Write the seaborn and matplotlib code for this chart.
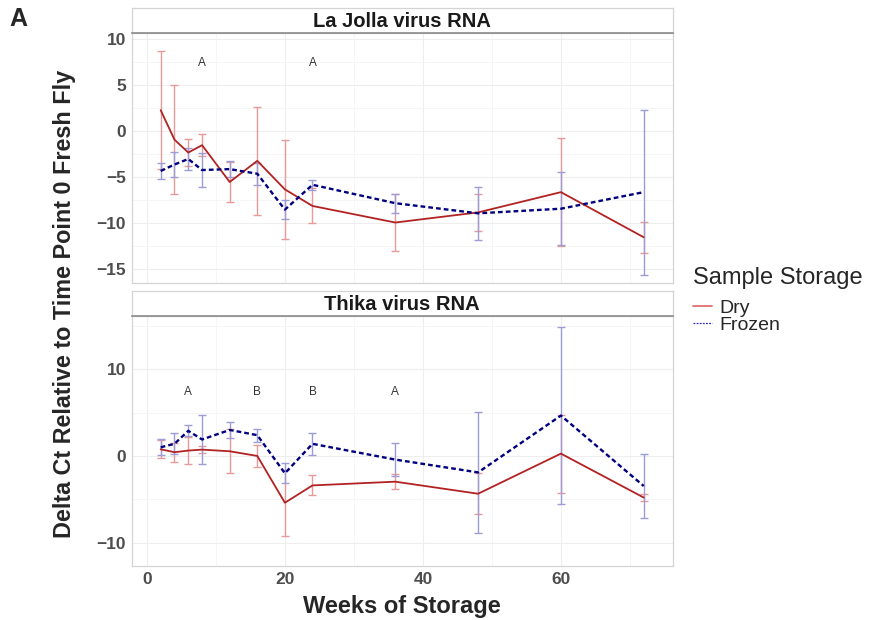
import numpy as np
import pandas as pd
import matplotlib
matplotlib.use("Agg")
import matplotlib.pyplot as plt
from matplotlib.lines import Line2D
from matplotlib.ticker import MultipleLocator
import seaborn as sns

# Storage time points (weeks)
weeks = [2, 4, 6, 8, 12, 16, 20, 24, 36, 48, 60, 72]

# La Jolla virus RNA: mean delta Ct and standard error
ljv_dry_mean = [2.3, -0.9, -2.3, -1.5, -5.5, -3.2, -6.3, -8.1, -9.9, -8.8, -6.6, -11.5]
ljv_dry_se = [6.4, 5.9, 1.5, 1.2, 2.2, 5.85, 5.4, 1.9, 3.05, 2.05, 5.85, 1.7]
ljv_frozen_mean = [-4.3, -3.6, -3.0, -4.2, -4.1, -4.6, -8.5, -5.8, -7.8, -8.9, -8.4, -6.6]
ljv_frozen_se = [0.9, 1.4, 1.2, 1.8, 0.85, 1.2, 1.0, 0.55, 1.05, 2.9, 3.95, 8.95]

# Thika virus RNA: mean delta Ct and standard error
thika_dry_mean = [0.77, 0.43, 0.62, 0.73, 0.54, 0.0, -5.4, -3.4, -2.97, -4.36, 0.27, -4.8]
thika_dry_se = [1.05, 1.1, 1.6, 0.4, 2.55, 1.25, 3.8, 1.15, 0.85, 2.35, 4.5, 0.45]
thika_frozen_mean = [1.0, 1.4, 2.9, 1.9, 3.0, 2.4, -2.0, 1.4, -0.42, -1.9, 4.66, -3.47]
thika_frozen_se = [0.9, 1.2, 0.65, 2.85, 0.95, 0.75, 1.15, 1.3, 1.9, 7.0, 10.25, 3.7]

# Significance letters
ljv_letter_weeks = [8, 24]
ljv_letters = ["A", "A"]
thika_letter_weeks = [6, 16, 24, 36]
thika_letters = ["A", "B", "B", "A"]
letter_y = 7.4

panels = ["La Jolla virus RNA", "Thika virus RNA"]
storage_levels = ["Dry", "Frozen"]


def long_frame(panel, dry_m, dry_s, fro_m, fro_s):
    parts = []
    for lvl, m, s in [("Dry", dry_m, dry_s), ("Frozen", fro_m, fro_s)]:
        parts.append(pd.DataFrame({"panel": panel, "storage": lvl, "week": weeks,
                                   "mean": m, "se": s}))
    return pd.concat(parts, ignore_index=True)


df = pd.concat([
    long_frame(panels[0], ljv_dry_mean, ljv_dry_se, ljv_frozen_mean, ljv_frozen_se),
    long_frame(panels[1], thika_dry_mean, thika_dry_se, thika_frozen_mean, thika_frozen_se),
], ignore_index=True)

sns.set_theme(style="white")
plt.rcParams["font.family"] = ["Liberation Sans", "DejaVu Sans"]

line_colors = {"Dry": "#B22222", "Frozen": "#000080"}
line_widths = {"Dry": 1.3, "Frozen": 1.7}
bar_colors = {"Dry": "#E89A9A", "Frozen": "#9C9CD6"}

fig = plt.figure(figsize=(8.8, 6.2), dpi=100)
W, H = 880, 620
left_px, right_px = 131.7, 672.7
panel_specs = [
    # (panel name, top px, bottom px, ylim, major step, letter weeks, letters)
    (panels[0], 33.3, 283.3, (-16.5, 10.65), 5, ljv_letter_weeks, ljv_letters),
    (panels[1], 316.0, 566.0, (-12.7, 16.15), 10, thika_letter_weeks, thika_letters),
]
strip_h = 25.0

grid_c = "#EEEEEE"
border_c = "#D4D4D4"

for name, top, bot, ylim, step, lw_, lt_ in panel_specs:
    ax = fig.add_axes([left_px / W, 1 - bot / H, (right_px - left_px) / W, (bot - top) / H])
    sub = df[df["panel"] == name]

    for lvl in storage_levels:
        d = sub[sub["storage"] == lvl]
        ax.errorbar(d["week"], d["mean"], yerr=d["se"], fmt="none",
                    ecolor=bar_colors[lvl], elinewidth=1.0, capsize=3.2,
                    capthick=1.0, zorder=2)

    n_before = len(ax.get_lines())
    sns.lineplot(data=sub, x="week", y="mean", hue="storage", style="storage",
                 hue_order=storage_levels, style_order=storage_levels,
                 palette=line_colors, dashes={"Dry": "", "Frozen": (2.0, 1.3)},
                 estimator=None, sort=True, ax=ax, legend=False, zorder=3)
    for ln, lvl in zip(ax.get_lines()[n_before:], storage_levels):
        ln.set_linewidth(line_widths[lvl])

    for wk, lt in zip(lw_, lt_):
        ax.text(wk, letter_y, lt, ha="center", va="center", fontsize=8.5, color="#333333")

    ax.set_xlim(-2.2, 76.2)
    ax.set_ylim(*ylim)
    ax.xaxis.set_major_locator(MultipleLocator(20))
    ax.xaxis.set_minor_locator(MultipleLocator(10))
    ax.yaxis.set_major_locator(MultipleLocator(step))
    ax.yaxis.set_minor_locator(MultipleLocator(step / 2))
    ax.grid(True, which="major", color=grid_c, linewidth=0.8)
    ax.grid(True, which="minor", color="#F5F5F5", linewidth=0.6)
    ax.set_axisbelow(True)
    for sp in ax.spines.values():
        sp.set_color(border_c)
        sp.set_linewidth(0.9)
    ax.tick_params(axis="both", which="both", length=0, pad=4)
    for t in ax.get_yticklabels():
        t.set_fontweight("bold")
        t.set_color("#4D4D4D")
        t.set_fontsize(12.5)
    ax.set_xlabel("")
    ax.set_ylabel("")
    if name == panels[0]:
        ax.set_xticklabels([])
    else:
        for t in ax.get_xticklabels():
            t.set_fontweight("bold")
            t.set_color("#4D4D4D")
            t.set_fontsize(12.5)

    # facet strip
    sax = fig.add_axes([left_px / W, 1 - top / H, (right_px - left_px) / W, strip_h / H])
    sax.set_xticks([])
    sax.set_yticks([])
    sax.set_facecolor("white")
    for k, sp in sax.spines.items():
        sp.set_color(border_c)
        sp.set_linewidth(0.9)
    sax.spines["bottom"].set_color("#8A8A8A")
    sax.spines["bottom"].set_linewidth(1.2)
    sax.text(0.5, 0.47, name, transform=sax.transAxes, ha="center", va="center",
             fontsize=14.5, fontweight="bold", color="#1A1A1A")

fig.text(65 / W, 1 - 304 / H, "Delta Ct Relative to Time Point 0 Fresh Fly",
         rotation=90, ha="center", va="center", fontsize=16.8, fontweight="bold")
fig.text(402 / W, 1 - 606 / H, "Weeks of Storage", ha="center", va="center",
         fontsize=17, fontweight="bold")
fig.text(18 / W, 1 - 19 / H, "A", ha="center", va="center", fontsize=18, fontweight="bold")

# legend
fig.text(693 / W, 1 - 278 / H, "Sample Storage", ha="left", va="center", fontsize=17)
handles = [
    Line2D([], [], color="#E07070", linewidth=1.3, linestyle="-"),
    Line2D([], [], color="#3030C0", linewidth=0.9, linestyle=(0, (1.5, 1.0))),
]
fig.legend(handles, storage_levels, loc="upper left",
           bbox_to_anchor=(693 / W, 1 - 299 / H), frameon=False, fontsize=14,
           handlelength=1.0, handletextpad=0.35, labelspacing=0.0,
           borderaxespad=0, borderpad=0)

fig.savefig("out.png", dpi=100)
